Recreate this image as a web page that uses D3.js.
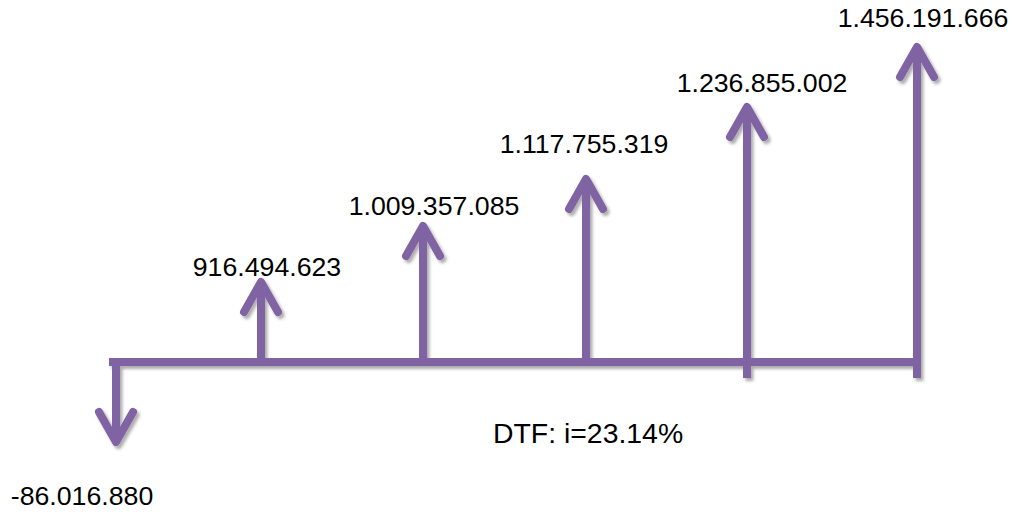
<!DOCTYPE html>
<html>
<head>
<meta charset="utf-8">
<script src="https://cdn.jsdelivr.net/npm/d3@7/dist/d3.min.js"></script>
<style>
  html, body { margin: 0; padding: 0; background: #fff; }
  svg { display: block; }
  text { font-family: "Liberation Sans", Arial, sans-serif; fill: #000; }
</style>
</head>
<body>
<svg id="chart" width="1013" height="519"></svg>
<script>
// ---- data ----
const periods = [0, 1, 2, 3, 4, 5];
const flows = [-86016880, 916494623, 1009357085, 1117755319, 1236855002, 1456191666];
const note = "DTF: i=23.14%";

// ---- setup ----
const W = 1013, H = 519;
const svg = d3.select("#chart");
const color = "#8064A2";

const locale = d3.formatLocale({ decimal: ",", thousands: ".", grouping: [3], currency: ["$", ""], minus: "-" });
const fmt = locale.format(",d");

// hand-drawn diagram: scales are piecewise to follow the picture
const x = d3.scaleLinear().domain(periods).range([116, 261, 423, 586, 747, 917]);
const sorted = [...flows.filter(v => v < 0), 0, ...flows.filter(v => v > 0)].sort((a, b) => a - b);
const y = d3.scaleLinear().domain(sorted).range([446, 362, 278, 222, 175, 103, 43]);

const defs = svg.append("defs");
const f = defs.append("filter").attr("id", "sh").attr("x", "-50%").attr("y", "-50%").attr("width", "200%").attr("height", "200%");
f.append("feDropShadow").attr("dx", 2.5).attr("dy", 3).attr("stdDeviation", 1.6)
  .attr("flood-color", "#000").attr("flood-opacity", 0.32);

const g = svg.append("g").attr("filter", "url(#sh)");
const y0 = y(0);

// time line
g.append("line")
  .attr("x1", x(0) - 7).attr("x2", x(periods[periods.length - 1]) - 4)
  .attr("y1", y0).attr("y2", y0)
  .attr("stroke", color).attr("stroke-width", 8);

const headH = 30, headW = 17;
periods.forEach((p, i) => {
  const v = flows[i];
  const cx = x(p), tip = y(v);
  const up = v > 0;
  const dir = up ? 1 : -1;
  const stemStart = up ? (p >= 4 ? y0 + 16 : y0 + 3) : y0 - 4;
  g.append("line")
    .attr("x1", cx).attr("x2", cx)
    .attr("y1", stemStart).attr("y2", tip + dir * 4)
    .attr("stroke", color).attr("stroke-width", 8);
  const apex = tip + dir * 4;
  g.append("path")
    .attr("d", d3.line()([[cx - headW, apex + dir * headH], [cx, apex], [cx + headW, apex + dir * headH]]))
    .attr("fill", "none").attr("stroke", color).attr("stroke-width", 8)
    .attr("stroke-linecap", "round").attr("stroke-linejoin", "round");
});

// value labels
const lblOff = [[-34, 59], [6, -2], [11, -7], [-2, -22], [15, -11], [6, -16]];
periods.forEach((p, i) => {
  svg.append("text")
    .attr("x", x(p) + lblOff[i][0]).attr("y", y(flows[i]) + lblOff[i][1])
    .attr("text-anchor", "middle").attr("font-size", 26.7)
    .text(fmt(flows[i]));
});

svg.append("text").attr("x", 493).attr("y", 443).attr("font-size", 28.4).text(note);
</script>
</body>
</html>
